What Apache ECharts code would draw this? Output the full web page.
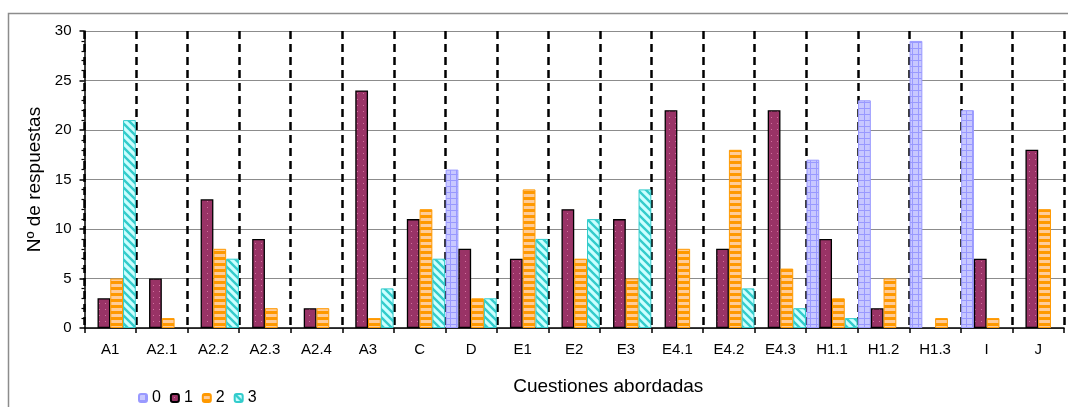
<!DOCTYPE html>
<html>
<head>
<meta charset="utf-8">
<script src="https://cdn.jsdelivr.net/npm/echarts@6/dist/echarts.min.js"></script>
<style>
html,body{margin:0;padding:0;background:#fff;}
#chart{width:1068px;height:407px;}
</style>
</head>
<body>
<div id="chart"></div>
<script>
const categories = ['A1','A2.1','A2.2','A2.3','A2.4','A3','C','D','E1','E2','E3','E4.1','E4.2','E4.3','H1.1','H1.2','H1.3','I','J'];
const seriesNames = ['0','1','2','3'];
const s0 = [0,0,0,0,0,0,0,16,0,0,0,0,0,0,17,23,29,22,0];
const s1 = [3,5,13,9,2,24,11,8,7,12,11,22,8,22,9,2,0,7,18];
const s2 = [5,1,8,2,2,1,12,3,14,7,5,8,18,6,3,5,1,1,12];
const s3 = [21,0,7,0,0,4,7,3,9,11,14,0,4,2,1,0,0,0,0];
const yTicks = [0,5,10,15,20,25,30];

function pat(w, h, draw) {
  const c = document.createElement('canvas');
  c.width = w; c.height = h;
  const g = c.getContext('2d');
  draw(g, w, h);
  return { image: c, repeat: 'repeat' };
}
const p0 = pat(6, 6, (g, w, h) => {
  g.fillStyle = '#C8C8FF'; g.fillRect(0, 0, w, h);
  g.fillStyle = '#9999FF'; g.fillRect(0, 0, w, 1); g.fillRect(0, 0, 1, h);
});
const p1 = pat(6, 6, (g, w, h) => {
  g.fillStyle = '#993366'; g.fillRect(0, 0, w, h);
  g.fillStyle = '#D2719F'; g.fillRect(3, 3, 1, 1);
});
const p2 = pat(6, 6, (g, w, h) => {
  g.fillStyle = '#FF9900'; g.fillRect(0, 0, w, h);
  g.fillStyle = '#FFCC99'; g.fillRect(0, 2, w, 3);
});
const p3 = pat(8, 8, (g, w, h) => {
  g.fillStyle = '#CCFFFF'; g.fillRect(0, 0, w, h);
  g.strokeStyle = '#33CCCC'; g.lineWidth = 2.4;
  g.beginPath();
  g.moveTo(-2, -2); g.lineTo(w + 2, h + 2);
  g.moveTo(-2, h - 2); g.lineTo(2, h + 2);
  g.moveTo(w - 2, -2); g.lineTo(w + 2, 2);
  g.stroke();
});
const fills = [p0, p1, p2, p3];
const borders = ['#9999FF', '#000000', '#FF9900', '#33CCCC'];
const values = [s0, s1, s2, s3];

const chart = echarts.init(document.getElementById('chart'), null, { renderer: 'canvas' });
const font = 'Liberation Sans, Arial, sans-serif';
chart.setOption({
  animation: false,
  backgroundColor: '#fff',
  graphic: [{
    type: 'rect', shape: { x: 8.5, y: 13.5, width: 1080, height: 420 },
    style: { fill: 'none', stroke: '#8c8c8c', lineWidth: 1.5 }, silent: true, z: -10
  }],
  grid: { left: 84.5, right: 4, top: 31, bottom: 79, containLabel: false },
  legend: {
    data: seriesNames, left: 133, top: 385, itemWidth: 8, itemHeight: 8, itemGap: 9,
    textStyle: { fontFamily: font, fontSize: 16, color: '#000' }
  },
  xAxis: {
    type: 'category', data: categories,
    name: 'Cuestiones abordadas', nameLocation: 'middle', nameGap: 49,
    nameTextStyle: { fontFamily: font, fontSize: 19, color: '#000', padding: [0, 0, 0, 68] },
    axisLine: { show: true, lineStyle: { color: '#000', width: 1.5 } },
    axisTick: { show: true, interval: 0, length: 5, lineStyle: { color: '#000', width: 1.5 } },
    axisLabel: { interval: 0, fontFamily: font, fontSize: 15, color: '#000', margin: 14 },
    splitLine: { show: true, interval: 0, lineStyle: { color: '#000', width: 2.5, type: [8, 5] } }
  },
  yAxis: {
    type: 'value', min: 0, max: 30, interval: 5,
    name: 'Nº de respuestas', nameLocation: 'middle', nameGap: 39, nameRotate: 90,
    nameTextStyle: { fontFamily: font, fontSize: 19, color: '#000' },
    axisLine: { show: true, lineStyle: { color: '#000', width: 1.5 } },
    axisTick: { show: true, length: 5, lineStyle: { color: '#000', width: 1.5 } },
    minorTick: { show: true, splitNumber: 5, length: 3, lineStyle: { color: '#000', width: 1.2 } },
    axisLabel: {
      fontFamily: font, fontSize: 15, color: '#000', margin: 13,
      formatter: v => (yTicks.indexOf(v) >= 0 ? String(v) : '')
    },
    splitLine: { show: true, lineStyle: { color: '#8c8c8c', width: 1.2 } }
  },
  series: values.map((vals, i) => ({
    name: seriesNames[i], type: 'bar',
    barGap: '0%', barCategoryGap: '1%',
    data: vals.map(v => (v === 0 ? '-' : v)),
    itemStyle: { color: fills[i], borderColor: borders[i], borderWidth: i === 1 ? 1.3 : 1 },
    z: 3
  }))
});
</script>
</body>
</html>
